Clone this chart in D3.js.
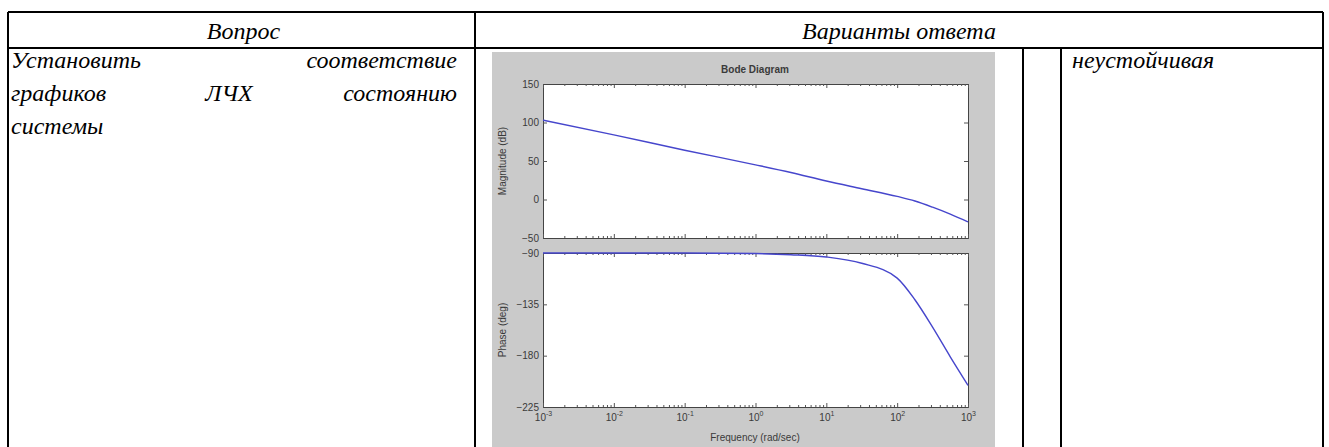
<!DOCTYPE html>
<html>
<head>
<meta charset="utf-8">
<script src="https://cdn.jsdelivr.net/npm/d3@7"></script>
<style>
  body { margin: 0; background: #fff; }
  .cell { font-family: "Liberation Serif", "Times New Roman", serif; font-style: italic; font-size: 24px; fill: #000; }
  .fig text { font-family: "Liberation Sans", Arial, sans-serif; fill: #3a3a3a; }
</style>
</head>
<body>
<div id="chart"></div>
<script>
// Data
const freqs = [0.001, 0.01, 0.1, 1, 3.16, 10, 31.6, 100, 178, 316, 562, 1000];
const magDb = [103, 84, 64, 45, 35, 24, 14, 4, -2, -10, -19, -29];
const phaseDeg = [-90, -90, -90, -90.5, -91.5, -93.5, -99, -112, -131, -155, -181, -206];

const freqTicks = [0.001, 0.01, 0.1, 1, 10, 100, 1000];
const magTicks = [-50, 0, 50, 100, 150];
const phaseTicks = [-225, -180, -135, -90];

// Table texts
const headers = ["Вопрос", "Варианты ответа"];
const questionLines = [["Установить", "соответствие"], ["графиков", "ЛЧХ", "состоянию"], ["системы"]];
const answerText = "неустойчивая";

const width = 1329;
const height = 447;

const svg = d3.select("#chart")
  .append("svg")
  .attr("width", width)
  .attr("height", height);

// ---- table grid ----
const tbl = { left: 8, right: 1323, top: 12, head: 48, c1: 475, c2: 1023, c3: 1061, bottom: 447 };
const grid = svg.append("g").attr("stroke", "#000").attr("stroke-width", 2);
grid.append("line").attr("x1", tbl.left).attr("x2", tbl.right).attr("y1", tbl.top).attr("y2", tbl.top);
grid.append("line").attr("x1", tbl.left).attr("x2", tbl.right).attr("y1", tbl.head).attr("y2", tbl.head);
[tbl.left, tbl.c1, tbl.right].forEach(x =>
  grid.append("line").attr("x1", x).attr("x2", x).attr("y1", tbl.top).attr("y2", tbl.bottom));
[tbl.c2, tbl.c3].forEach(x =>
  grid.append("line").attr("x1", x).attr("x2", x).attr("y1", tbl.head).attr("y2", tbl.bottom));

function cellText(txt, x, y, anchor) {
  svg.append("text").attr("class", "cell").attr("x", x).attr("y", y)
    .attr("text-anchor", anchor || "start")
    .text(txt);
}

// header texts
cellText(headers[0], (tbl.left + tbl.c1) / 2 + 2, 39, "middle");
cellText(headers[1], (tbl.c1 + tbl.right) / 2, 39, "middle");

// question cell (justified lines)
const qLeft = 11, qRight = 457, lineH = 33, firstBase = 68;
questionLines.forEach((words, i) => {
  const y = firstBase + i * lineH;
  words.forEach((w, j) => {
    if (j === 0) cellText(w, qLeft, y, "start");
    else if (j === words.length - 1) cellText(w, qRight, y, "end");
    else cellText(w, 229, y, "middle");
  });
});

// answer cell
cellText(answerText, 1072, 68, "start");

// ---- Bode figure ----
const fig = svg.append("g").attr("class", "fig");
fig.append("rect").attr("x", 492).attr("y", 52).attr("width", 503).attr("height", height - 52)
  .attr("fill", "#cacaca");

const x = d3.scaleLog().domain([0.001, 1000]).range([543, 968]);
const yMag = d3.scaleLinear().domain([-50, 150]).range([238, 84]);
const yPh = d3.scaleLinear().domain([-225, -90]).range([407, 253]);

const minorTicks = x.ticks().filter(v => !freqTicks.some(f => Math.abs(f - v) / f < 1e-6));

function drawPanel(yScale, yTicks, values, showX) {
  const [yb, yt] = yScale.range();
  const [x0, x1] = x.range();
  fig.append("rect").attr("x", x0).attr("y", yt).attr("width", x1 - x0).attr("height", yb - yt)
    .attr("fill", "#fff");

  const styleAxis = g => {
    g.selectAll("path.domain").attr("stroke", "#444").attr("stroke-width", 1);
    g.selectAll(".tick line").attr("stroke", "#555");
    g.selectAll("text").attr("font-size", 10).attr("fill", "#3a3a3a");
  };

  // left & right
  fig.append("g").attr("transform", `translate(${x0},0)`)
    .call(d3.axisLeft(yScale).tickValues(yTicks).tickSize(-4).tickSizeOuter(0).tickPadding(4))
    .call(styleAxis);
  fig.append("g").attr("transform", `translate(${x1},0)`)
    .call(d3.axisRight(yScale).tickValues(yTicks).tickSize(-4).tickSizeOuter(0).tickFormat(""))
    .call(styleAxis);

  // top & bottom (major + minor)
  fig.append("g").attr("transform", `translate(0,${yt})`)
    .call(d3.axisTop(x).tickValues(freqTicks).tickSize(-4).tickSizeOuter(0).tickFormat(""))
    .call(styleAxis);
  fig.append("g").attr("transform", `translate(0,${yt})`)
    .call(d3.axisTop(x).tickValues(minorTicks).tickSize(-2).tickSizeOuter(0).tickFormat(""))
    .call(styleAxis);
  const bottomAxis = fig.append("g").attr("transform", `translate(0,${yb})`)
    .call(d3.axisBottom(x).tickValues(freqTicks).tickSize(-4).tickSizeOuter(0).tickPadding(7)
      .tickFormat(showX ? (d => "10") : ""))
    .call(styleAxis);
  fig.append("g").attr("transform", `translate(0,${yb})`)
    .call(d3.axisBottom(x).tickValues(minorTicks).tickSize(-2).tickSizeOuter(0).tickFormat(""))
    .call(styleAxis);

  if (showX) {
    bottomAxis.selectAll(".tick text").each(function(d) {
      const t = d3.select(this);
      t.text("");
      t.append("tspan").text("10");
      t.append("tspan").attr("dy", -5).attr("font-size", 7).text(Math.round(Math.log10(d)));
    });
  }

  const line = d3.line().x((d, i) => x(freqs[i])).y(d => yScale(d)).curve(d3.curveMonotoneX);
  fig.append("path").datum(values).attr("d", line)
    .attr("fill", "none").attr("stroke", "#4646cc").attr("stroke-width", 1.4);
}

drawPanel(yMag, magTicks, magDb, false);
drawPanel(yPh, phaseTicks, phaseDeg, true);

// titles
fig.append("text").attr("x", 755).attr("y", 73).attr("text-anchor", "middle")
  .attr("font-size", 10).attr("font-weight", "bold").text("Bode Diagram");
fig.append("text").attr("x", 755).attr("y", 441).attr("text-anchor", "middle")
  .attr("font-size", 10).text("Frequency (rad/sec)");
fig.append("text").attr("transform", `translate(506,${(84 + 238) / 2}) rotate(-90)`)
  .attr("text-anchor", "middle").attr("font-size", 10).text("Magnitude (dB)");
fig.append("text").attr("transform", `translate(506,${(253 + 407) / 2}) rotate(-90)`)
  .attr("text-anchor", "middle").attr("font-size", 10).text("Phase (deg)");
</script>
</body>
</html>
